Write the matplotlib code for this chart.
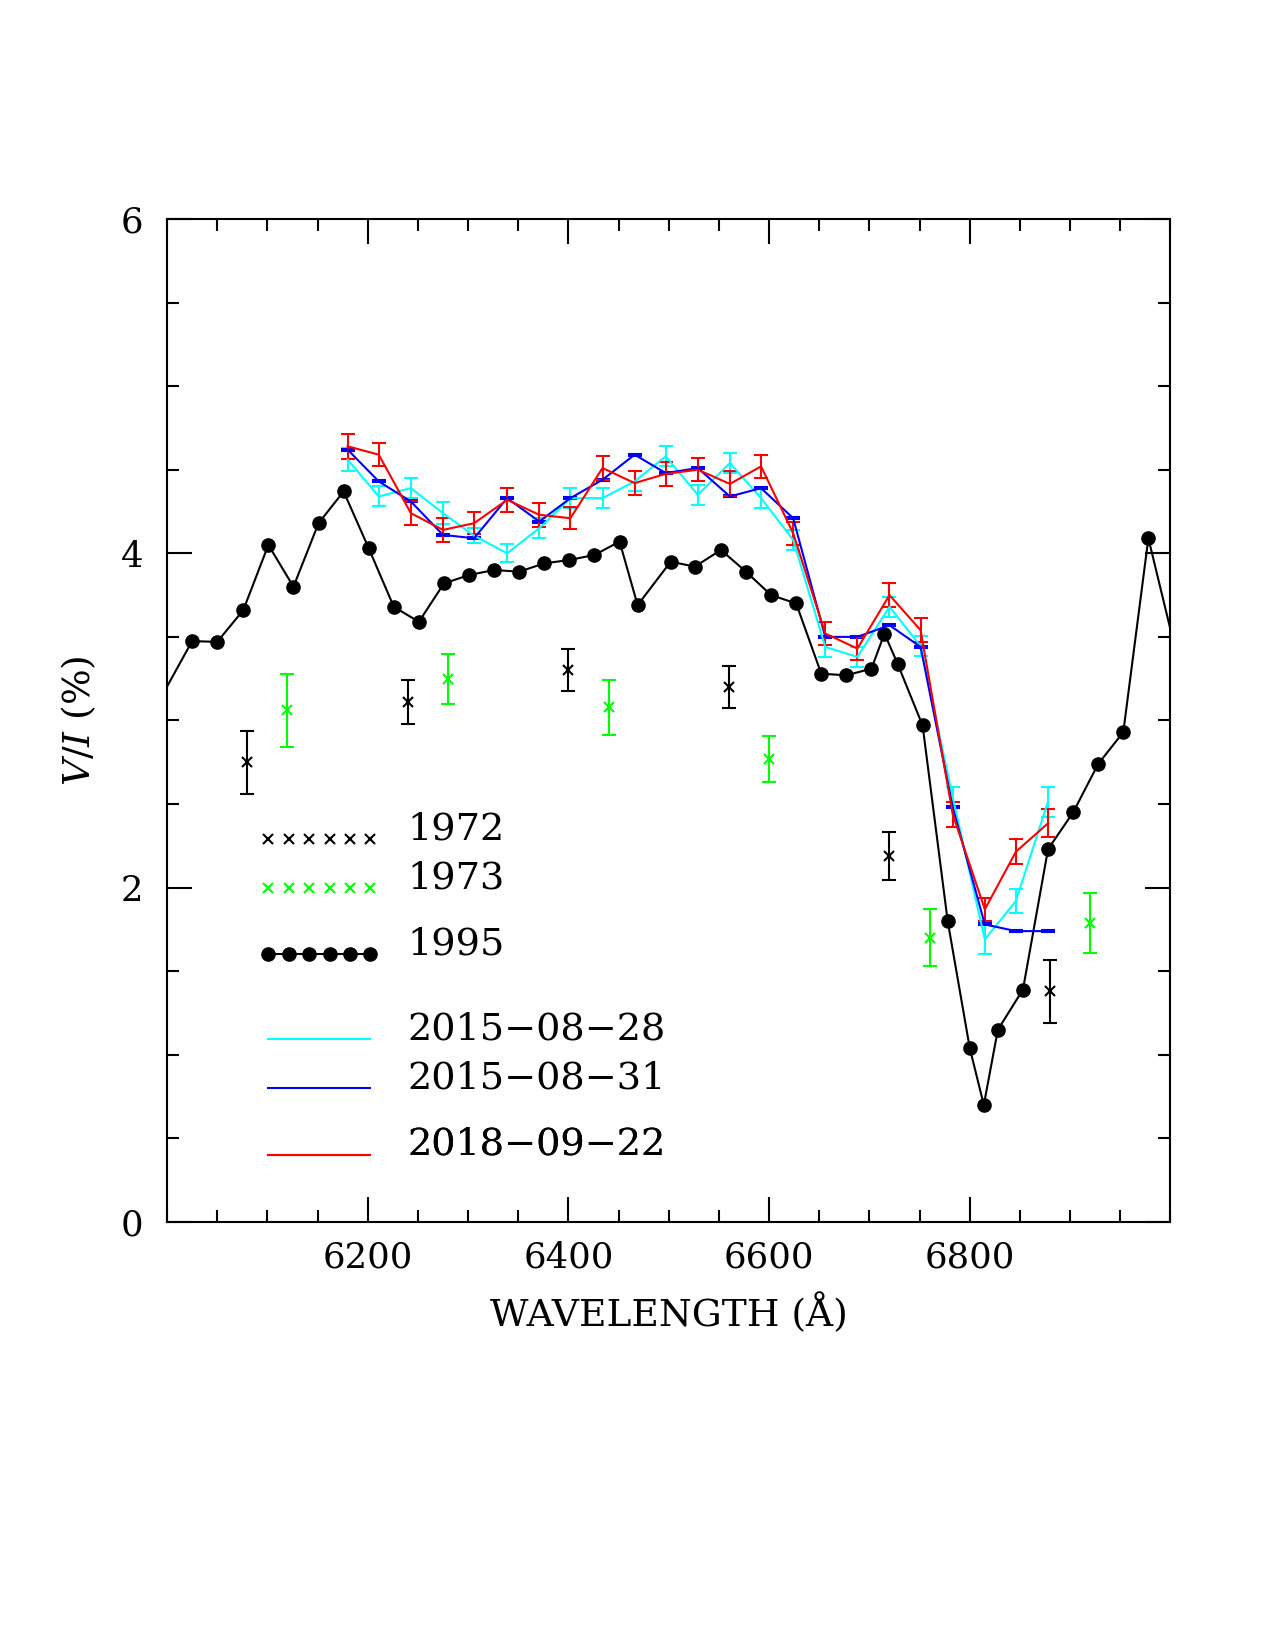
import numpy as np
import matplotlib
matplotlib.use('Agg')
import matplotlib.pyplot as plt
from matplotlib.lines import Line2D
from matplotlib.legend_handler import HandlerLine2D
from matplotlib.transforms import offset_copy

plt.rcParams['font.family'] = ['DejaVu Serif']
plt.rcParams['mathtext.fontset'] = 'dejavuserif'

# 1995 spectrum (points outside 6000-7000 only carry the line to the frame)
x_1995 = [5975, 6025, 6050, 6076, 6101, 6126, 6151, 6176, 6201, 6226, 6251, 6276,
          6301, 6326, 6351, 6376, 6401, 6426, 6451, 6469, 6502, 6526, 6552, 6577,
          6602, 6627, 6652, 6677, 6702, 6715, 6728, 6753, 6778, 6800, 6814, 6828,
          6853, 6878, 6903, 6928, 6953, 6978, 7003]
vi_1995 = [2.93, 3.475, 3.47, 3.66, 4.05, 3.80, 4.18, 4.37, 4.03, 3.68, 3.59, 3.82,
           3.87, 3.90, 3.89, 3.94, 3.96, 3.99, 4.07, 3.69, 3.95, 3.92, 4.02, 3.89,
           3.75, 3.70, 3.28, 3.27, 3.31, 3.52, 3.34, 2.97, 1.80, 1.04, 0.70, 1.15,
           1.39, 2.23, 2.45, 2.74, 2.93, 4.09, 3.47]

# 1972 / 1973
x_1972 = [6080, 6240, 6400, 6560, 6720, 6880]
vi_1972 = [2.75, 3.11, 3.30, 3.20, 2.19, 1.38]
err_1972 = [0.19, 0.13, 0.125, 0.125, 0.145, 0.19]

x_1973 = [6120, 6280, 6440, 6600, 6760, 6920]
vi_1973 = [3.06, 3.25, 3.08, 2.77, 1.70, 1.79]
err_1973 = [0.22, 0.15, 0.165, 0.14, 0.17, 0.18]

# 2015 / 2018 observations
x_new = [6180, 6211, 6243, 6275, 6306, 6339, 6371, 6402, 6434, 6466, 6497, 6529,
         6561, 6592, 6624, 6656, 6688, 6720, 6751, 6783, 6815, 6846, 6878]
vi_0828 = [4.56, 4.34, 4.39, 4.24, 4.105, 4.00, 4.15, 4.33, 4.33, 4.43, 4.58, 4.35,
           4.54, 4.33, 4.08, 3.44, 3.38, 3.68, 3.445, 2.54, 1.69, 1.92, 2.515]
err_0828 = [0.07, 0.06, 0.06, 0.065, 0.045, 0.055, 0.06, 0.06, 0.06, 0.06, 0.06, 0.06,
            0.06, 0.06, 0.06, 0.06, 0.06, 0.06, 0.06, 0.065, 0.085, 0.07, 0.09]
vi_0831 = [4.62, 4.43, 4.31, 4.11, 4.09, 4.33, 4.19, 4.33, 4.44, 4.59, 4.48, 4.51,
           4.34, 4.39, 4.21, 3.50, 3.50, 3.57, 3.44, 2.48, 1.78, 1.74, 1.74]
err_0831 = [0.006] * 23
vi_0922 = [4.64, 4.59, 4.24, 4.14, 4.18, 4.32, 4.23, 4.21, 4.51, 4.42, 4.475, 4.50,
           4.415, 4.52, 4.12, 3.52, 3.43, 3.75, 3.54, 2.44, 1.87, 2.215, 2.385]
err_0922 = [0.075, 0.07, 0.07, 0.07, 0.065, 0.07, 0.07, 0.065, 0.07, 0.07, 0.07, 0.07,
            0.075, 0.07, 0.07, 0.07, 0.07, 0.07, 0.07, 0.075, 0.07, 0.075, 0.085]

fig = plt.figure(figsize=(12.75, 16.5), dpi=100)
ax = fig.add_axes([0.131, 0.2594, 0.787, 0.6079])

eb = dict(lw=1.5, elinewidth=1.5, capsize=4.7, capthick=1.5)
ax.errorbar(x_new, vi_0828, yerr=err_0828, color='#00ffff', **eb)
ax.errorbar(x_new, vi_0831, yerr=err_0831, color='#0000ff', **eb)
ax.errorbar(x_new, vi_0922, yerr=err_0922, color='#ff0000', **eb)

ax.plot(x_1995, vi_1995, 'o-', color='k', lw=1.5, ms=9.5, markevery=slice(1, -1))

ax.errorbar(x_1972, vi_1972, yerr=err_1972, fmt='x', color='k', ms=7, mew=1.5, **eb)
ax.errorbar(x_1973, vi_1973, yerr=err_1973, fmt='x', color='#00ff00', ms=7, mew=1.5, **eb)

ax.set_xlim(6000, 7000)
ax.set_ylim(0, 6)
ax.set_xticks([6200, 6400, 6600, 6800])
ax.set_xticks(np.arange(6000, 7001, 50), minor=True)
ax.set_yticks([0, 2, 4, 6])
ax.set_yticks(np.arange(0, 6.01, 0.5), minor=True)
ax.tick_params(which='both', direction='in', top=True, right=True, width=1.5)
ax.tick_params(which='major', length=18, labelsize=25.5)
ax.tick_params(axis='x', which='major', pad=13)
ax.tick_params(axis='y', which='major', pad=17)
ax.tick_params(which='minor', length=8.6)
for s in ax.spines.values():
    s.set_linewidth(1.5)

ax.set_xlabel('WAVELENGTH (Å)', fontsize=27, labelpad=14)
ax.set_ylabel('$V/I$ (%)', fontsize=27, labelpad=16)


# key: six samples per entry, sample row sitting on the text baseline
def on_baseline(handle, orig):
    handle.update_from(orig)
    handle.set_ydata(np.zeros(len(handle.get_xdata())))


hmap = {Line2D: HandlerLine2D(numpoints=6, update_func=on_baseline)}
h72 = Line2D([], [], ls='none', marker='x', color='k', ms=7, mew=1.5)
h73 = Line2D([], [], ls='none', marker='x', color='#00ff00', ms=7, mew=1.5)
h95 = Line2D([], [], ls='-', marker='o', color='k', lw=1.5, ms=9.5)
h28 = Line2D([], [], color='#00ffff', lw=1.5)
h31 = Line2D([], [], color='#0000ff', lw=1.5)
h22 = Line2D([], [], color='#ff0000', lw=1.5)

key_fs = 27.5
anchor = offset_copy(ax.transData, fig, x=-0.3 * key_fs, y=-0.23 * key_fs, units='points')
groups = [([h72, h73], ['1972', '1973'], 2.00),
          ([h95], ['1995'], 1.606),
          ([h28, h31], ['2015\u221208\u221228', '2015\u221208\u221231'], 0.805),
          ([h22], ['2018\u221209\u221222'], 0.406)]
for hs, labs, ybase in groups:
    leg = ax.legend(hs, labs, handler_map=hmap, loc='lower left',
                    bbox_to_anchor=(6101, ybase), bbox_transform=anchor,
                    frameon=False, fontsize=key_fs, borderpad=0, borderaxespad=0,
                    handlelength=3.27, handletextpad=0.66, labelspacing=0.34)
    ax.add_artist(leg)

fig.savefig('out.png', dpi=100)
